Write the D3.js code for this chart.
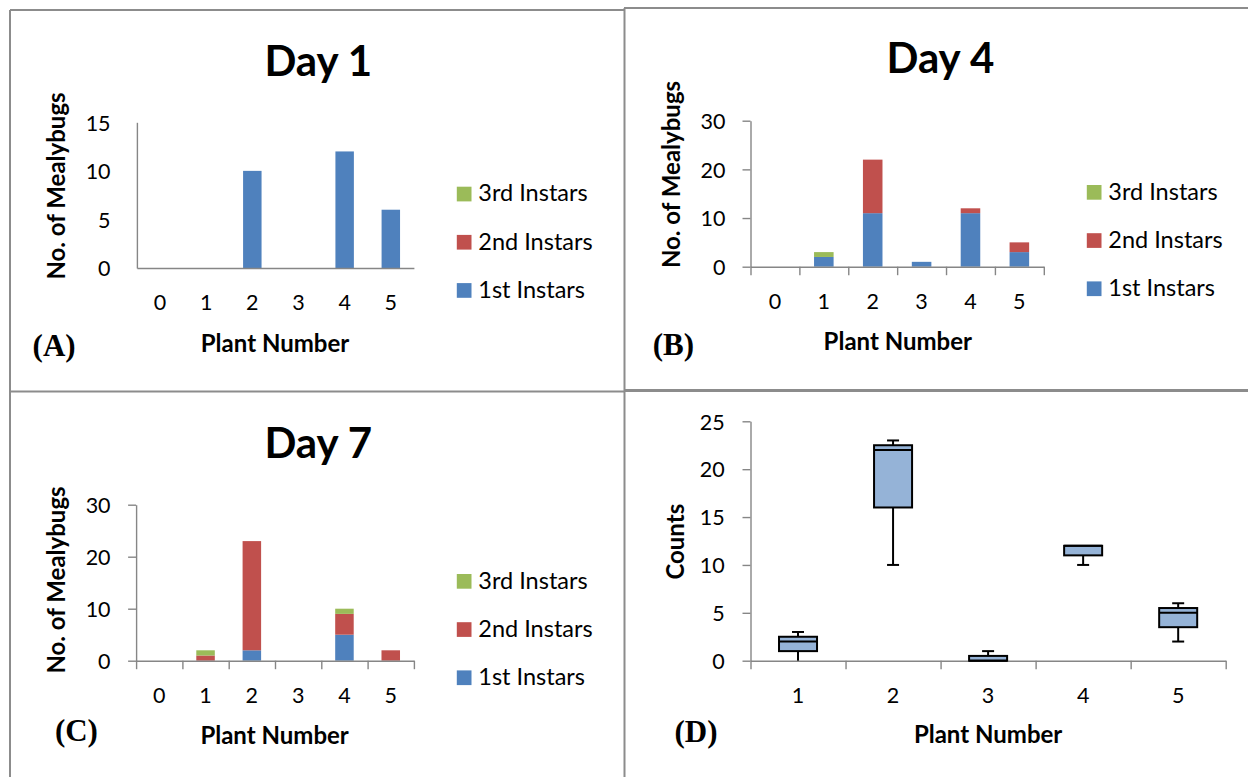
<!DOCTYPE html>
<html><head><meta charset="utf-8">
<script src="https://cdn.jsdelivr.net/npm/d3@7"></script>
<style>html,body{margin:0;padding:0;background:#fff;}svg{display:block;}</style>
</head><body>
<script>
// ---------- data ----------
const plants = ["0", "1", "2", "3", "4", "5"];
const seriesNames = ["1st Instars", "2nd Instars", "3rd Instars"];
const seriesColors = ["#4f81bd", "#c0504d", "#9bbb59"];

const day1First  = [0, 0, 10, 0, 12, 6];
const day1Second = [0, 0, 0, 0, 0, 0];
const day1Third  = [0, 0, 0, 0, 0, 0];

const day4First  = [0, 2, 11, 1, 11, 3];
const day4Second = [0, 0, 11, 0, 1, 2];
const day4Third  = [0, 1, 0, 0, 0, 0];

const day7First  = [0, 0, 2, 0, 5, 0];
const day7Second = [0, 1, 21, 0, 4, 2];
const day7Third  = [0, 1, 0, 0, 1, 0];

const day1Ticks = [0, 5, 10, 15];
const day47Ticks = [0, 10, 20, 30];

const boxPlants = ["1", "2", "3", "4", "5"];
const boxMin    = [0, 10, 0, 10, 2];
const boxQ1     = [1, 16, 0, 11, 3.5];
const boxMedian = [2, 22, 0, 12, 5];
const boxQ3     = [2.5, 22.5, 0.5, 12, 5.5];
const boxMax    = [3, 23, 1, 12, 6];
const boxTicks  = [0, 5, 10, 15, 20, 25];

// ---------- setup ----------
const W = 1248, H = 777;
const SANS = "Lato, 'Open Sans', sans-serif";
const SERIF = "'Liberation Serif', 'Times New Roman', serif";
const AXIS = "#868686";
const TICK_FS = 21.5;

const svg = d3.select("body").append("svg").attr("width", W).attr("height", H);

// panel frames
const frame = svg.append("g").attr("stroke", "#8c8c8c").attr("fill", "none");
frame.append("line").attr("x1", 10).attr("y1", 10).attr("x2", 10).attr("y2", H).attr("stroke-width", 2);
frame.append("line").attr("x1", 10).attr("y1", 10).attr("x2", 624).attr("y2", 10).attr("stroke-width", 2);
frame.append("line").attr("x1", 624).attr("y1", 8).attr("x2", W).attr("y2", 8).attr("stroke-width", 2);
frame.append("line").attr("x1", 624.5).attr("y1", 8).attr("x2", 624.5).attr("y2", H).attr("stroke-width", 2);
frame.append("line").attr("x1", 10).attr("y1", 391.5).attr("x2", 624).attr("y2", 391.5).attr("stroke-width", 2);
frame.append("line").attr("x1", 624).attr("y1", 390.5).attr("x2", W).attr("y2", 390.5).attr("stroke-width", 3);

function txt(g, str, x, y, opts) {
  const o = Object.assign({size: 20, weight: "normal", anchor: "start", family: SANS, rotate: false}, opts || {});
  const t = g.append("text").text(str)
    .attr("font-family", o.family).attr("font-size", o.size).attr("font-weight", o.weight)
    .attr("text-anchor", o.anchor).attr("fill", "#000");
  if (o.rotate) t.attr("transform", `translate(${x},${y}) rotate(-90)`);
  else t.attr("x", x).attr("y", y);
  return t;
}

function styleYAxis(ax, pad) {
  ax.attr("color", AXIS).attr("font-family", SANS).attr("font-size", TICK_FS);
  ax.select(".domain").attr("stroke-width", 1.4);
  ax.selectAll(".tick line").attr("stroke-width", 1.4);
  ax.selectAll(".tick text").attr("x", -pad).attr("y", 7.7).attr("dy", null)
    .attr("fill", "#000").attr("text-anchor", "end");
}
function styleXLabels(ax) {
  ax.attr("font-family", SANS).attr("font-size", TICK_FS);
  ax.select(".domain").remove();
  ax.selectAll(".tick line").remove();
  ax.selectAll(".tick text").attr("x", 0).attr("y", 42).attr("dy", null)
    .attr("fill", "#000").attr("text-anchor", "middle");
}
function boundaryAxis(g, n, x0, x1, yb, tick) {
  const xb = d3.scaleLinear().domain([0, n]).range([x0, x1]);
  const xa = g.append("g").attr("transform", `translate(0,${yb})`)
    .call(d3.axisBottom(xb).tickValues(d3.range(n + 1)).tickSize(tick).tickSizeOuter(0).tickFormat(""));
  xa.attr("color", AXIS);
  xa.select(".domain").attr("stroke-width", 1.4);
  xa.selectAll(".tick line").attr("stroke-width", 1.4);
}

function barPanel(c) {
  const g = svg.append("g");
  const x = d3.scaleBand().domain(plants).range([c.x0, c.x1]).paddingInner(0.6).paddingOuter(0.3);
  const y = d3.scaleLinear().domain([0, c.ticks[c.ticks.length - 1]]).range([c.yb, c.yt]);
  const rows = plants.map((p, i) => ({plant: p, s0: c.first[i], s1: c.second[i], s2: c.third[i]}));
  const stacked = d3.stack().keys(["s0", "s1", "s2"])(rows);

  stacked.forEach((layer, k) => {
    g.append("g").attr("fill", seriesColors[k]).selectAll("rect")
      .data(layer.filter(d => d[1] - d[0] > 0)).join("rect")
      .attr("x", d => x(d.data.plant)).attr("width", x.bandwidth())
      .attr("y", d => y(d[1])).attr("height", d => y(d[0]) - y(d[1]));
  });

  const ya = g.append("g").attr("transform", `translate(${c.x0},0)`)
    .call(d3.axisLeft(y).tickValues(c.ticks).tickSize(c.hasTicks ? 8 : 0).tickSizeOuter(0));
  styleYAxis(ya, c.ypad);
  boundaryAxis(g, plants.length, c.x0, c.x1, c.yb, c.hasTicks ? 8.5 : 0);
  const xl = g.append("g").attr("transform", `translate(0,${c.yb})`)
    .call(d3.axisBottom(x).tickSize(0));
  styleXLabels(xl);

  txt(g, c.title, c.titleX, c.titleY, {size: 42, weight: "bold", anchor: "middle"});
  txt(g, "No. of Mealybugs", c.ylabX, c.ylabY, {size: 24, weight: "bold", anchor: "middle", rotate: true});
  txt(g, "Plant Number", c.xlabX, c.xlabY, {size: 24, weight: "bold", anchor: "middle"});
  txt(g, c.letter, c.letterX, c.letterY, {size: 31, weight: "bold", family: SERIF});

  [2, 1, 0].forEach((k, i) => {
    const ty = c.legTop + i * 48.2;
    g.append("rect").attr("x", c.legX).attr("y", ty).attr("width", 14.7).attr("height", 14.7).attr("fill", seriesColors[k]);
    txt(g, seriesNames[k], c.legX + 21.5, ty + 14.7, {size: 23.5});
  });
}

barPanel({x0: 136.9, x1: 413.9, yb: 268, yt: 122.3, ticks: day1Ticks, hasTicks: false, ypad: 26.3,
  first: day1First, second: day1Second, third: day1Third,
  title: "Day 1", titleX: 318.3, titleY: 76,
  ylabX: 65, ylabY: 186, xlabX: 275, xlabY: 351.7,
  letter: "(A)", letterX: 32.6, letterY: 356,
  legX: 456.8, legTop: 186.7});

barPanel({x0: 750.5, x1: 1043.8, yb: 266.7, yt: 120.7, ticks: day47Ticks, hasTicks: true, ypad: 25,
  first: day4First, second: day4Second, third: day4Third,
  title: "Day 4", titleX: 940.4, titleY: 73.3,
  ylabX: 680, ylabY: 174.5, xlabX: 897.8, xlabY: 350,
  letter: "(B)", letterX: 652.7, letterY: 355,
  legX: 1086.8, legTop: 185});

barPanel({x0: 136.1, x1: 413.9, yb: 660.7, yt: 504.7, ticks: day47Ticks, hasTicks: true, ypad: 25.5,
  first: day7First, second: day7Second, third: day7Third,
  title: "Day 7", titleX: 318.3, titleY: 458,
  ylabX: 65, ylabY: 580, xlabX: 274.6, xlabY: 744,
  letter: "(C)", letterX: 54.9, letterY: 741,
  legX: 456.8, legTop: 574});

// ---------- box plot panel ----------
(function () {
  const g = svg.append("g");
  const x0 = 750.5, x1 = 1225.7, yb = 660.7, yt = 421.3;
  const x = d3.scaleBand().domain(boxPlants).range([x0, x1]).paddingInner(0.6).paddingOuter(0.3);
  const y = d3.scaleLinear().domain([0, 25]).range([yb, yt]);

  const ya = g.append("g").attr("transform", `translate(${x0},0)`)
    .call(d3.axisLeft(y).tickValues(boxTicks).tickSize(8).tickSizeOuter(0));
  styleYAxis(ya, 25.8);
  boundaryAxis(g, boxPlants.length, x0, x1, yb, 8.5);
  const xl = g.append("g").attr("transform", `translate(0,${yb})`).call(d3.axisBottom(x).tickSize(0));
  styleXLabels(xl);

  const rows = boxPlants.map((p, i) => ({p, min: boxMin[i], q1: boxQ1[i], med: boxMedian[i], q3: boxQ3[i], max: boxMax[i]}));
  const bw = x.bandwidth(), cap = 12;
  const cx = d => x(d.p) + bw / 2;
  const bx = g.selectAll("g.box").data(rows).join("g").attr("class", "box")
    .attr("stroke", "#000").attr("stroke-width", 2);
  const up = bx.filter(d => d.max > d.q3);
  up.append("line").attr("x1", cx).attr("x2", cx).attr("y1", d => y(d.q3)).attr("y2", d => y(d.max));
  up.append("line").attr("x1", d => cx(d) - cap / 2).attr("x2", d => cx(d) + cap / 2)
    .attr("y1", d => y(d.max)).attr("y2", d => y(d.max));
  const low = bx.filter(d => d.min < d.q1);
  low.append("line").attr("x1", cx).attr("x2", cx).attr("y1", d => y(d.q1)).attr("y2", d => y(d.min));
  low.filter(d => d.min > 0).append("line").attr("x1", d => cx(d) - cap / 2).attr("x2", d => cx(d) + cap / 2)
    .attr("y1", d => y(d.min)).attr("y2", d => y(d.min));
  bx.append("rect").attr("fill", "#95b3d7")
    .attr("x", d => x(d.p)).attr("width", bw)
    .attr("y", d => y(d.q3)).attr("height", d => y(d.q1) - y(d.q3));
  bx.append("line").attr("x1", d => x(d.p)).attr("x2", d => x(d.p) + bw)
    .attr("y1", d => y(d.med)).attr("y2", d => y(d.med));

  txt(g, "Counts", 684, 541.7, {size: 24, weight: "bold", anchor: "middle", rotate: true});
  txt(g, "Plant Number", 988.1, 743, {size: 24, weight: "bold", anchor: "middle"});
  txt(g, "(D)", 674.5, 742, {size: 31, weight: "bold", family: SERIF});
})();
</script>
</body></html>
